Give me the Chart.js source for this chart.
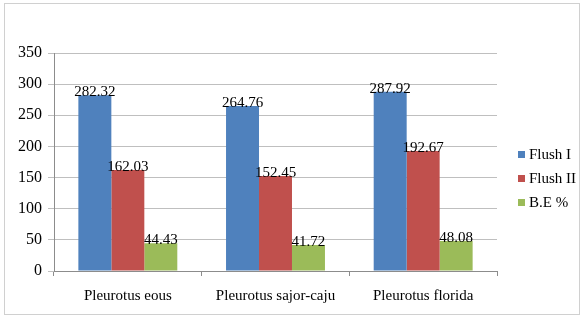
<!DOCTYPE html>
<html>
<head>
<meta charset="utf-8">
<script src="https://cdn.jsdelivr.net/npm/chart.js@4"></script>
<style>
  html, body { margin: 0; padding: 0; background: #fff; }
  #wrap { width: 585px; height: 318px; position: relative; }
</style>
</head>
<body>
<div id="wrap"><canvas id="chart"></canvas></div>
<script>
const categories = ['Pleurotus eous', 'Pleurotus sajor-caju', 'Pleurotus florida']
const flushI = [282.32, 264.76, 287.92]
const flushII = [162.03, 152.45, 192.67]
const bePercent = [44.43, 41.72, 48.08]
const yTicks = [0, 50, 100, 150, 200, 250, 300, 350]

const FONT = "'Liberation Serif', 'Times New Roman', serif"

// outer frame + data labels + legend on the right
const decorations = {
  id: 'decorations',
  beforeDraw(chart) {
    const ctx = chart.ctx
    ctx.save()
    ctx.strokeStyle = '#d0d0d0'
    ctx.lineWidth = 1
    ctx.strokeRect(4.5, 3.5, 575, 311)
    ctx.restore()
  },
  afterDatasetsDraw(chart) {
    const ctx = chart.ctx
    ctx.save()
    ctx.font = '15px ' + FONT
    ctx.fillStyle = '#000'
    ctx.textAlign = 'center'
    ctx.textBaseline = 'alphabetic'
    chart.data.datasets.forEach((ds, i) => {
      chart.getDatasetMeta(i).data.forEach((bar, j) => {
        ctx.fillText(ds.data[j].toFixed(2), bar.x, bar.y + 1)
      })
    })
    // legend
    ctx.textAlign = 'left'
    ctx.textBaseline = 'middle'
    chart.data.datasets.forEach((ds, i) => {
      const y = 155 + i * 24
      ctx.fillStyle = ds.backgroundColor
      ctx.fillRect(518, y - 4, 7, 7)
      ctx.fillStyle = '#000'
      ctx.fillText(ds.label, 529, y)
    })
    ctx.restore()
  }
}

new Chart(document.getElementById('chart'), {
  type: 'bar',
  data: {
    labels: categories,
    datasets: [
      { label: 'Flush I', data: flushI, backgroundColor: '#4f81bd' },
      { label: 'Flush II', data: flushII, backgroundColor: '#c0504d' },
      { label: 'B.E %', data: bePercent, backgroundColor: '#9bbb59' }
    ]
  },
  options: {
    responsive: true,
    maintainAspectRatio: false,
    animation: false,
    layout: { padding: { top: 53, left: 0, right: 88, bottom: 0 } },
    datasets: {
      bar: { categoryPercentage: 0.67, barPercentage: 1.0 }
    },
    plugins: {
      legend: { display: false },
      tooltip: { enabled: false }
    },
    scales: {
      x: {
        afterFit: (axis) => { axis.height = 47 },
        grid: {
          offset: true,
          drawOnChartArea: false,
          drawTicks: true,
          tickLength: 5,
          color: '#8c8c8c'
        },
        border: { color: '#8c8c8c' },
        ticks: {
          color: '#000',
          padding: 11,
          font: { family: FONT, size: 15 }
        }
      },
      y: {
        min: 0,
        max: 350,
        afterFit: (axis) => { axis.width = 54 },
        afterBuildTicks: (axis) => {
          axis.ticks = yTicks.map(v => ({ value: v }))
        },
        grid: {
          color: '#bfbfbf',
          tickLength: 6
        },
        border: { color: '#8c8c8c' },
        ticks: {
          color: '#000',
          padding: 6,
          font: { family: FONT, size: 16 }
        }
      }
    }
  },
  plugins: [decorations]
})
</script>
</body>
</html>
